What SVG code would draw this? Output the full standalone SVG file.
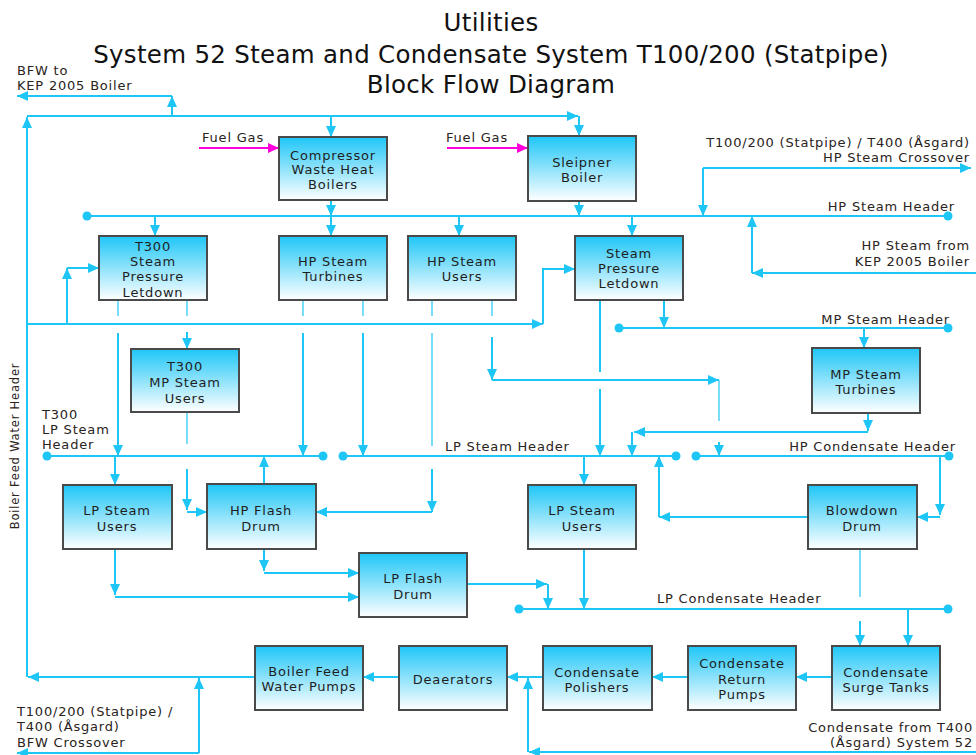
<svg xmlns="http://www.w3.org/2000/svg" width="976" height="755" viewBox="0 0 976 755">
  <style>
    .ttl { font-family: "DejaVu Sans", Verdana, sans-serif; font-size: 24.5px; letter-spacing: 0.3px; fill: #111; text-anchor: middle; }
    .lbl { font-family: "DejaVu Sans", Verdana, sans-serif; font-size: 13px; letter-spacing: 0.8px; fill: #2a2320; }
    .end { text-anchor: end; }
    .box rect { fill: url(#boxFill); stroke: #4a4a4a; stroke-width: 2; }
    .box text { font-family: "DejaVu Sans", Verdana, sans-serif; font-size: 13px; letter-spacing: 0.8px; fill: #1e1e1e; text-anchor: middle; }
    .ln { fill: none; stroke: #1ec6f6; stroke-width: 2; }
    .thin { fill: none; stroke: #1ec6f6; stroke-width: 1.2; }
    .ar { marker-end: url(#arr); }
    .gas { fill: none; stroke: #ff00dd; stroke-width: 2; marker-end: url(#arrGas); }
    .dot { fill: #1ec6f6; }
  </style>
  <defs>
    <linearGradient id="boxFill" x1="0" y1="0" x2="0" y2="1">
      <stop offset="0" stop-color="#1ec6f7"/>
      <stop offset="1" stop-color="#ffffff"/>
    </linearGradient>
    <marker id="arr" markerUnits="userSpaceOnUse" markerWidth="12" markerHeight="10" refX="11" refY="5" orient="auto">
      <path d="M0,0 L11,5 L0,10 z" fill="#1ec6f6"/>
    </marker>
    <marker id="arrGas" markerUnits="userSpaceOnUse" markerWidth="12" markerHeight="10" refX="11" refY="5" orient="auto">
      <path d="M0,0 L11,5 L0,10 z" fill="#ff00dd"/>
    </marker>
  </defs>

  <rect width="976" height="755" fill="#ffffff"/>

  <!-- Title -->
  <text class="ttl" x="491" y="31">Utilities</text>
  <text class="ttl" x="491" y="63">System 52 Steam and Condensate System T100/200 (Statpipe)</text>
  <text class="ttl" x="491" y="93">Block Flow Diagram</text>

  <!-- Connectors -->
  <g id="connectors">
    <!-- boiler feed water header and supply to boilers -->
    <path class="ln ar" d="M255,677 L28,677"/>
    <path class="ln ar" d="M27,677 L27,117"/>
    <path class="ln ar" d="M27,116 L578,116"/>
    <path class="ln ar" d="M579,116 L579,136"/>
    <path class="ln ar" d="M331,116 L331,137"/>
    <path class="ln ar" d="M172,116 L172,96"/>
    <path class="ln ar" d="M172,96 L17,96"/>

    <!-- fuel gas -->
    <path class="gas" d="M199,148 L279,148"/>
    <path class="gas" d="M447,148 L528,148"/>

    <!-- HP steam header -->
    <path class="ln ar" d="M331,200 L331,216"/>
    <path class="ln ar" d="M579,201 L579,216"/>
    <path class="ln" d="M87,216 L948,216"/>
    <circle class="dot" cx="87" cy="216" r="4.5"/>
    <circle class="dot" cx="948" cy="216" r="4.5"/>
    <path class="ln ar" d="M155,216 L155,236"/>
    <path class="ln ar" d="M331,216 L331,236"/>
    <path class="ln ar" d="M459,216 L459,236"/>
    <path class="ln ar" d="M632,216 L632,236"/>
    <path class="ln ar" d="M703,168 L971,168"/>
    <path class="ln ar" d="M703,168 L703,216"/>
    <path class="ln ar" d="M976,273 L752,273"/>
    <path class="ln ar" d="M752,273 L752,216"/>

    <!-- desuperheating water to letdown stations -->
    <path class="ln ar" d="M27,324 L543,324"/>
    <path class="ln ar" d="M543,324 L543,269 L575,269"/>
    <path class="ln ar" d="M67,324 L67,268"/>
    <path class="ln ar" d="M67,268 L99,268"/>

    <!-- outlets of the HP consumers (broken where they jump the water line) -->
    <path class="thin" d="M118,300 L118,316"/>
    <path class="ln ar" d="M118,333 L118,456"/>
    <path class="thin" d="M187,300 L187,316"/>
    <path class="ln ar" d="M187,332 L187,349"/>
    <path class="thin" d="M303,300 L303,316"/>
    <path class="ln ar" d="M303,333 L303,456"/>
    <path class="thin" d="M363,300 L363,316"/>
    <path class="ln ar" d="M363,333 L363,456"/>
    <path class="thin" d="M432,300 L432,316"/>
    <path class="thin" d="M432,333 L432,446"/>
    <path class="ln ar" d="M432,469 L432,512"/>
    <path class="ln ar" d="M432,512 L316,512"/>
    <path class="thin" d="M492,300 L492,316"/>
    <path class="ln ar" d="M492,337 L492,380"/>
    <path class="ln ar" d="M492,380 L719,380"/>
    <path class="thin" d="M719,380 L719,421"/>
    <path class="ln ar" d="M719,442 L719,456"/>
    <path class="ln" d="M600,300 L600,372"/>
    <path class="ln ar" d="M600,389 L600,456"/>
    <path class="ln ar" d="M664,300 L664,328"/>

    <!-- MP steam header -->
    <path class="ln" d="M619,328 L948,328"/>
    <circle class="dot" cx="619" cy="328" r="4.5"/>
    <circle class="dot" cx="948" cy="328" r="4.5"/>
    <path class="ln ar" d="M864,328 L864,348"/>
    <path class="ln ar" d="M868,413 L868,431"/>
    <path class="ln ar" d="M868,432 L634,432"/>
    <path class="ln ar" d="M632,432 L632,456"/>

    <!-- T300 LP steam header / LP steam header / HP condensate header -->
    <path class="ln" d="M47,456 L323,456"/>
    <circle class="dot" cx="47" cy="456" r="4.5"/>
    <circle class="dot" cx="323" cy="456" r="4.5"/>
    <path class="ln" d="M343,456 L676,456"/>
    <circle class="dot" cx="343" cy="456" r="4.5"/>
    <circle class="dot" cx="676" cy="456" r="4.5"/>
    <path class="ln" d="M696,456 L949,456"/>
    <circle class="dot" cx="696" cy="456" r="4.5"/>
    <circle class="dot" cx="949" cy="456" r="4.5"/>

    <path class="ln ar" d="M115,456 L115,485"/>
    <path class="ln ar" d="M264,484 L264,456"/>
    <path class="thin" d="M187,412 L187,444"/>
    <path class="ln ar" d="M187,469 L187,510"/>
    <path class="ln ar" d="M187,512 L207,512"/>
    <path class="ln ar" d="M584,456 L584,485"/>
    <path class="ln ar" d="M808,517 L659,517"/>
    <path class="ln ar" d="M659,517 L659,456"/>
    <path class="ln ar" d="M940,456 L940,515"/>
    <path class="ln ar" d="M940,517 L917,517"/>

    <!-- condensate collection -->
    <path class="ln ar" d="M115,549 L115,595"/>
    <path class="ln ar" d="M115,597 L359,597"/>
    <path class="ln ar" d="M264,549 L264,571"/>
    <path class="ln ar" d="M264,573 L359,573"/>
    <path class="ln ar" d="M467,584 L547,584"/>
    <path class="ln ar" d="M548,584 L548,609"/>
    <path class="ln" d="M519,609 L948,609"/>
    <circle class="dot" cx="519" cy="609" r="4.5"/>
    <circle class="dot" cx="948" cy="609" r="4.5"/>
    <path class="ln ar" d="M584,549 L584,609"/>
    <path class="thin" d="M860,549 L860,597"/>
    <path class="ln ar" d="M860,621 L860,646"/>
    <path class="ln ar" d="M908,609 L908,646"/>

    <!-- condensate return train -->
    <path class="ln ar" d="M832,677 L796,677"/>
    <path class="ln ar" d="M688,677 L652,677"/>
    <path class="ln ar" d="M543,677 L507,677"/>
    <path class="ln ar" d="M399,677 L363,677"/>
    <path class="ln ar" d="M199,753 L17,753"/>
    <path class="ln ar" d="M199,753 L199,678"/>
    <path class="ln ar" d="M976,752 L529,752"/>
    <path class="ln ar" d="M528,752 L528,678"/>
  </g>

  <!-- Line labels -->
  <text class="lbl" x="17" y="74.8">BFW to</text>
  <text class="lbl" x="17" y="90">KEP 2005 Boiler</text>
  <text class="lbl" x="202" y="142">Fuel Gas</text>
  <text class="lbl" x="446" y="142">Fuel Gas</text>
  <text class="lbl end" x="970" y="146.8">T100/200 (Statpipe) / T400 (Åsgard)</text>
  <text class="lbl end" x="970" y="162">HP Steam Crossover</text>
  <text class="lbl end" x="955" y="211">HP Steam Header</text>
  <text class="lbl end" x="970" y="250.3">HP Steam from</text>
  <text class="lbl end" x="970" y="265.5">KEP 2005 Boiler</text>
  <text class="lbl end" x="950" y="324">MP Steam Header</text>
  <text class="lbl" x="42" y="418.6">T300</text>
  <text class="lbl" x="42" y="433.8">LP Steam</text>
  <text class="lbl" x="42" y="449">Header</text>
  <text class="lbl" x="445" y="451">LP Steam Header</text>
  <text class="lbl end" x="956" y="451">HP Condensate Header</text>
  <text class="lbl" x="657" y="603">LP Condensate Header</text>
  <text class="lbl" x="17" y="716.1">T100/200 (Statpipe) /</text>
  <text class="lbl" x="17" y="731.3">T400 (Åsgard)</text>
  <text class="lbl" x="17" y="746.5">BFW Crossover</text>
  <text class="lbl end" x="973" y="731.5">Condensate from T400</text>
  <text class="lbl end" x="973" y="746.7">(Åsgard) System 52</text>
  <text x="0" y="0" font-family="DejaVu Sans, Verdana, sans-serif" font-size="11.5" letter-spacing="0.8" fill="#2a2320" text-anchor="middle" transform="translate(19,446) rotate(-90)">Boiler Feed Water Header</text>

  <!-- Nodes -->
  <g id="compressor-whb" class="box">
    <rect x="279" y="137" width="108" height="63"/>
    <text x="333" y="159.5">Compressor</text>
    <text x="333" y="174.2">Waste Heat</text>
    <text x="333" y="189">Boilers</text>
  </g>
  <g id="sleipner-boiler" class="box">
    <rect x="528" y="136" width="108" height="65"/>
    <text x="582" y="166.5">Sleipner</text>
    <text x="582" y="182">Boiler</text>
  </g>
  <g id="t300-letdown" class="box">
    <rect x="99" y="236" width="108" height="64"/>
    <text x="153" y="250.5">T300</text>
    <text x="153" y="266">Steam</text>
    <text x="153" y="281.3">Pressure</text>
    <text x="153" y="296.5">Letdown</text>
  </g>
  <g id="hp-steam-turbines" class="box">
    <rect x="279" y="236" width="108" height="64"/>
    <text x="333" y="266">HP Steam</text>
    <text x="333" y="281.3">Turbines</text>
  </g>
  <g id="hp-steam-users" class="box">
    <rect x="408" y="236" width="108" height="64"/>
    <text x="462" y="266">HP Steam</text>
    <text x="462" y="281.3">Users</text>
  </g>
  <g id="steam-letdown" class="box">
    <rect x="575" y="236" width="108" height="64"/>
    <text x="629" y="258">Steam</text>
    <text x="629" y="273.2">Pressure</text>
    <text x="629" y="288.4">Letdown</text>
  </g>
  <g id="t300-mp-users" class="box">
    <rect x="131" y="349" width="108" height="63"/>
    <text x="185" y="370.5">T300</text>
    <text x="185" y="386.5">MP Steam</text>
    <text x="185" y="402.5">Users</text>
  </g>
  <g id="mp-steam-turbines" class="box">
    <rect x="812" y="348" width="108" height="65"/>
    <text x="866" y="379">MP Steam</text>
    <text x="866" y="394.2">Turbines</text>
  </g>
  <g id="lp-steam-users-1" class="box">
    <rect x="63" y="485" width="109" height="64"/>
    <text x="117" y="515">LP Steam</text>
    <text x="117" y="530.5">Users</text>
  </g>
  <g id="hp-flash-drum" class="box">
    <rect x="207" y="484" width="109" height="65"/>
    <text x="261" y="515">HP Flash</text>
    <text x="261" y="530.5">Drum</text>
  </g>
  <g id="lp-steam-users-2" class="box">
    <rect x="528" y="485" width="108" height="64"/>
    <text x="582" y="515">LP Steam</text>
    <text x="582" y="530.5">Users</text>
  </g>
  <g id="blowdown-drum" class="box">
    <rect x="808" y="485" width="109" height="64"/>
    <text x="862" y="515">Blowdown</text>
    <text x="862" y="530.5">Drum</text>
  </g>
  <g id="lp-flash-drum" class="box">
    <rect x="359" y="553" width="108" height="64"/>
    <text x="413" y="583">LP Flash</text>
    <text x="413" y="598.5">Drum</text>
  </g>
  <g id="bfw-pumps" class="box">
    <rect x="255" y="646" width="108" height="64"/>
    <text x="309" y="676">Boiler Feed</text>
    <text x="309" y="691.3">Water Pumps</text>
  </g>
  <g id="deaerators" class="box">
    <rect x="399" y="646" width="108" height="64"/>
    <text x="453" y="683.5">Deaerators</text>
  </g>
  <g id="condensate-polishers" class="box">
    <rect x="543" y="646" width="109" height="64"/>
    <text x="597" y="676.5">Condensate</text>
    <text x="597" y="691.8">Polishers</text>
  </g>
  <g id="condensate-return-pumps" class="box">
    <rect x="688" y="646" width="108" height="64"/>
    <text x="742" y="668">Condensate</text>
    <text x="742" y="683.5">Return</text>
    <text x="742" y="699">Pumps</text>
  </g>
  <g id="condensate-surge-tanks" class="box">
    <rect x="832" y="646" width="108" height="64"/>
    <text x="886" y="676.5">Condensate</text>
    <text x="886" y="691.8">Surge Tanks</text>
  </g>
</svg>
